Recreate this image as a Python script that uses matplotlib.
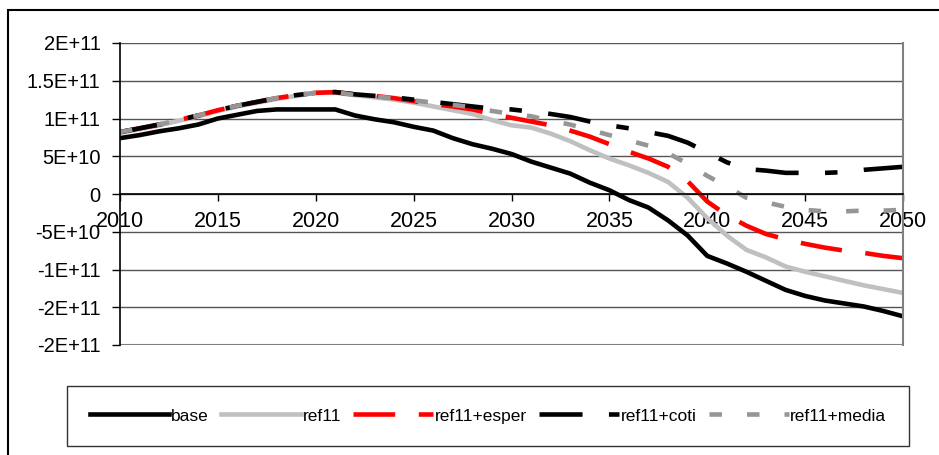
import numpy as np
import matplotlib.pyplot as plt
from matplotlib.patches import Rectangle
from matplotlib.ticker import FixedLocator, FixedFormatter

plt.rcParams['font.family'] = ['Liberation Sans', 'DejaVu Sans']
plt.rcParams['lines.scale_dashes'] = False

years = np.arange(2010, 2051)

base = np.array([74, 78, 83, 87, 92, 100, 105, 110, 112, 112,
                 112, 112, 104, 99, 95, 89, 84, 74, 66, 60,
                 53, 43, 35, 27, 15, 5, -8, -18, -35, -55,
                 -82, -92, -103, -115, -127, -135, -141, -145, -149, -155,
                 -162]) * 1e9

ref11 = np.array([81, 86, 91, 97, 103, 110, 116, 121, 126, 130,
                  134, 134, 131, 128, 125, 121, 116, 111, 106, 98,
                  91, 88, 80, 70, 58, 47, 38, 28, 16, -5,
                  -32, -55, -74, -84, -96, -103, -109, -115, -121, -126,
                  -131]) * 1e9

ref11_esper = np.array([82, 87, 92, 98, 104, 111, 117, 122, 127, 131,
                        134, 135, 132, 130, 127, 123, 119, 116, 112, 106,
                        101, 96, 91, 84, 76, 66, 56, 47, 36, 17,
                        -10, -28, -42, -53, -60, -66, -71, -75, -78, -82,
                        -85]) * 1e9

ref11_coti = np.array([82, 87, 92, 98, 104, 111, 117, 122, 127, 131,
                       134, 135, 132, 130, 128, 125, 122, 119, 116, 113,
                       112, 109, 106, 102, 96, 91, 87, 82, 77, 68,
                       55, 42, 33, 31, 28, 28, 28, 29, 32, 34,
                       36]) * 1e9

ref11_media = np.array([82, 87, 92, 98, 104, 111, 117, 122, 127, 131,
                        134, 135, 131, 129, 127, 124, 121, 118, 115, 110,
                        106, 103, 97, 92, 85, 78, 71, 64, 54, 40,
                        24, 10, -5, -11, -17, -21, -23, -23, -22, -22,
                        -21]) * 1e9

y_ticks = [2e11, 1.5e11, 1e11, 5e10, 0, -5e10, -1e11, -1.5e11, -2e11]
y_labels = ['2E+11', '1.5E+11', '1E+11', '5E+10', '0',
            '-5E+10', '-1E+11', '-2E+11', '-2E+11']
x_ticks = np.arange(2010, 2051, 5)

fig = plt.figure(figsize=(9.39, 4.55), dpi=100)
ax = fig.add_axes([120 / 939, 1 - 345 / 455, 783 / 939, 302 / 455])

lw = 3.3
ax.plot(years, base, color='black', lw=lw, label='base')
ax.plot(years, ref11, color='#c0c0c0', lw=lw, label='ref11')
ax.plot(years, ref11_esper, color='#ff0000', lw=lw,
        ls=(0, (30, 17)), label='ref11+esper')
ax.plot(years, ref11_coti, color='black', lw=lw,
        ls=(0, (31, 19, 9, 19)), label='ref11+coti')
ax.plot(years, ref11_media, color='#969696', lw=lw,
        ls=(0, (9, 18)), label='ref11+media')

ax.set_xlim(2010, 2050)
ax.set_ylim(-2e11, 2e11)

ax.yaxis.set_major_locator(FixedLocator(y_ticks))
ax.yaxis.set_major_formatter(FixedFormatter(y_labels))
ax.set_xticks(x_ticks)
ax.set_xticklabels([str(v) for v in x_ticks])

ax.yaxis.grid(True, color='#555555', lw=1)
ax.set_axisbelow(True)
ax.axhline(-2e11, color='#808080', lw=1.5, zorder=1)

ax.spines['bottom'].set_position(('data', 0))
ax.spines['bottom'].set_color('black')
ax.spines['bottom'].set_linewidth(1.2)
ax.spines['left'].set_color('black')
ax.spines['left'].set_linewidth(1.2)
ax.spines['right'].set_color('#808080')
ax.spines['right'].set_linewidth(1.5)
ax.spines['top'].set_visible(False)

ax.tick_params(axis='y', direction='out', length=6, width=1,
               pad=8, labelsize=14.5, colors='black')
ax.tick_params(axis='x', direction='out', length=5, width=1,
               pad=7, labelsize=15.5, colors='black')

leg = fig.legend(loc='center', bbox_to_anchor=(488 / 939, 1 - 416 / 455),
                 ncol=5, fontsize=12.5, frameon=True, fancybox=False,
                 handlelength=4.6, handletextpad=0.1, columnspacing=0.7,
                 borderpad=1.3)
leg.get_frame().set_edgecolor('black')
leg.get_frame().set_linewidth(1)

# outer chart border, cut off at the right and bottom edges
fig.patches.append(Rectangle((8 / 939, -0.1), 1.0, 1 - 10 / 455 + 0.1,
                             transform=fig.transFigure, fill=False,
                             ec='black', lw=1.5))

fig.savefig('out.png', dpi=100)
